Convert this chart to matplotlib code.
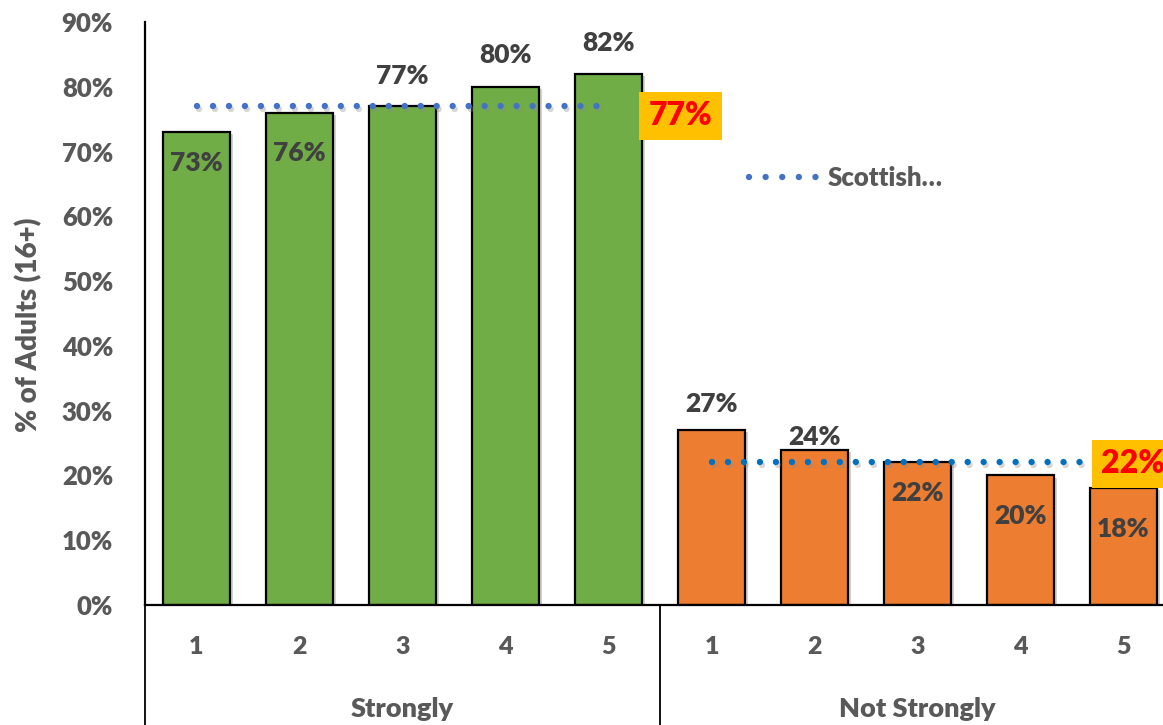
import matplotlib
matplotlib.use("Agg")
import matplotlib.pyplot as plt
from matplotlib.lines import Line2D
from matplotlib import patheffects as pe

# --- data -----------------------------------------------------------------
groups = ["Strongly", "Not Strongly"]
levels = ["1", "2", "3", "4", "5"]
strongly = [73, 76, 77, 80, 82]
not_strongly = [27, 24, 22, 20, 18]
avg_strongly = 77
avg_not_strongly = 22
legend_label = "Scottish…"
y_ticks = [0, 10, 20, 30, 40, 50, 60, 70, 80, 90]

# --- styling --------------------------------------------------------------
FONT = ["Lato", "DejaVu Sans"]
WEIGHT = 800
plt.rcParams["font.family"] = FONT
plt.rcParams["font.weight"] = WEIGHT
GREEN = "#70AD47"
ORANGE = "#ED7D31"
TICK_GREY = "#595959"
LABEL_GREY = "#404040"
W, H = 1163, 725

fig = plt.figure(figsize=(W / 100, H / 100), dpi=100)
# plot area in pixels: x from 145 to 1175 (extends past the right edge), y from 22 to 605
ax = fig.add_axes([145 / W, (H - 605) / H, 1030 / W, 583 / H])

values = strongly + not_strongly
colors = [GREEN] * len(strongly) + [ORANGE] * len(not_strongly)
xpos = list(range(len(values)))

bar_shadow = [pe.SimplePatchShadow(offset=(2.5, -1.5), shadow_rgbFace="#7f7f7f", alpha=0.35), pe.Normal()]
bars = ax.bar(xpos, values, width=0.65, color=colors, edgecolor="black",
              linewidth=1.6, zorder=2)
for b in bars:
    b.set_path_effects(bar_shadow)

ax.set_xlim(-0.5, len(values) - 0.5)
ax.set_ylim(0, 90)
ax.set_yticks(y_ticks)
ax.set_yticklabels([f"{t}%" for t in y_ticks], color=TICK_GREY, fontsize=18.5, fontweight=WEIGHT)
ax.tick_params(axis="y", length=0, pad=23)
ax.set_xticks([])
for s in ("top", "right"):
    ax.spines[s].set_visible(False)
ax.spines["left"].set_linewidth(1.6)
ax.spines["bottom"].set_linewidth(1.6)

ax.set_ylabel("% of Adults (16+)", color=TICK_GREY, fontsize=20, fontweight=WEIGHT)
ax.yaxis.set_label_coords(-0.1, 0.48)

# value labels: offsets (points) from bar tops, some inside, some above
label_offsets = [-22, -29, 22, 23, 22, 19, 9, -22, -29, -29]
for x, v, off in zip(xpos, values, label_offsets):
    ax.annotate(f"{v}%", xy=(x, v), xytext=(0, off), textcoords="offset points",
                ha="center", va="center", fontsize=19, fontweight=WEIGHT,
                color=LABEL_GREY, zorder=5)

# group average lines
line_shadow = [pe.SimpleLineShadow(offset=(1.5, -2), shadow_color="#8a8a8a", alpha=0.35), pe.Normal()]
n1 = len(strongly)
dot_style = dict(linewidth=4.6, linestyle=(0, (0.001, 2.5)), dash_capstyle="round",
                 zorder=3, path_effects=line_shadow)
ax.plot([0, n1 - 1], [avg_strongly] * 2, color="#4472C4", **dot_style)
ax.plot([n1, len(values) - 1], [avg_not_strongly] * 2, color="#0070C0", **dot_style)

box = dict(boxstyle="square,pad=0.3", facecolor="#FFC000", edgecolor="none")
ax.annotate(f"{avg_strongly}%", xy=(n1 - 1, avg_strongly), xytext=(52, -7),
            textcoords="offset points", ha="center", va="center", fontsize=23,
            fontweight=WEIGHT, color="#FF0000", bbox=box, zorder=6)
ax.annotate(f"{avg_not_strongly}%", xy=(len(values) - 1, avg_not_strongly), xytext=(7, -1),
            textcoords="offset points", ha="center", va="center", fontsize=23,
            fontweight=WEIGHT, color="#FF0000", bbox=box, zorder=6)

# category axis: level numbers, group names and separators
trans = ax.get_xaxis_transform()
px = 1 / 583
for x in xpos:
    ax.text(x, -42 * px, levels[x % n1], transform=trans, ha="center", va="center",
            fontsize=18, fontweight=WEIGHT, color=TICK_GREY)
for g, name in enumerate(groups):
    ax.text(g * n1 + (n1 - 1) / 2, -104 * px, name, transform=trans, ha="center",
            va="center", fontsize=19.5, fontweight=WEIGHT, color=TICK_GREY)
for sep in (-0.5, n1 - 0.5, len(values) - 0.5):
    ax.plot([sep, sep], [0, -125 * px], transform=trans, color="black",
            linewidth=1.3, clip_on=False, zorder=1)

# legend
handle = Line2D([], [], color="#4472C4", linewidth=4.6, linestyle=(0, (0.001, 2.6)),
                dash_capstyle="round")
fig.legend(handles=[handle], labels=[legend_label], loc="center left",
           bbox_to_anchor=(749 / W, 1 - 178 / H), frameon=False, borderpad=0,
           borderaxespad=0, handlelength=2.75, handletextpad=0.3,
           prop=dict(family=FONT, weight=WEIGHT, size=18.5),
           labelcolor=TICK_GREY)

fig.savefig("out.png", dpi=100)
